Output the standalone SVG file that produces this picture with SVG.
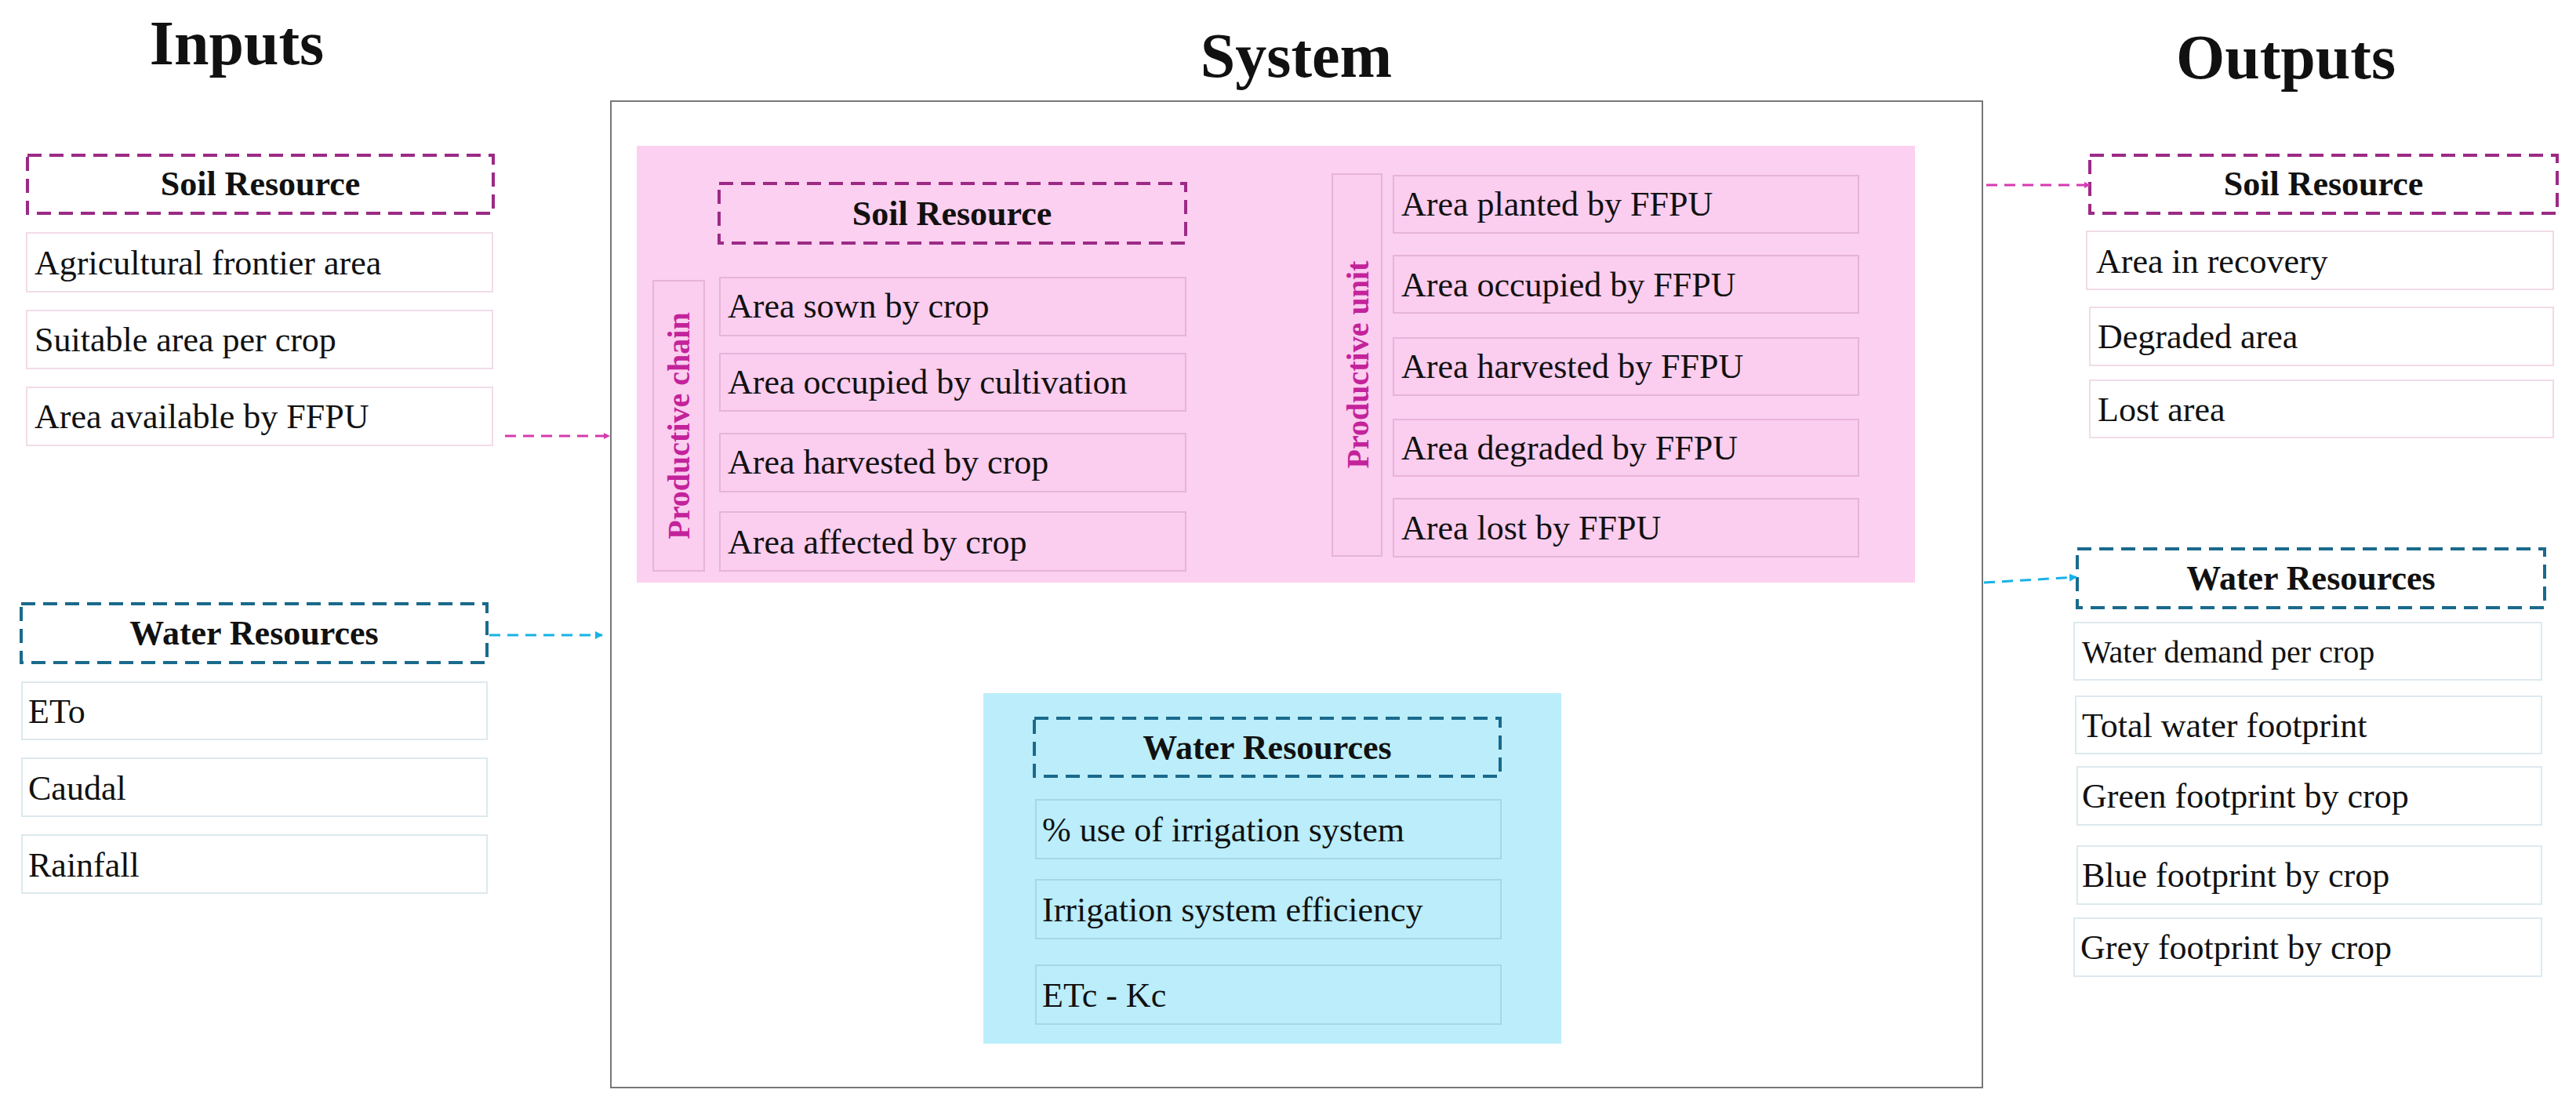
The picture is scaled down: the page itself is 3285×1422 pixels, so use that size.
<svg xmlns="http://www.w3.org/2000/svg" width="3285" height="1422" viewBox="0 0 3285 1422">
<defs>
<style>
text{font-family:"Liberation Serif","Times New Roman",serif;fill:#111}
.title{font-size:80px;font-weight:bold;text-anchor:middle}
.hdr{font-size:44px;font-weight:bold;text-anchor:middle}
.it{font-size:44px}
.sh{fill:none;stroke:#9c2a85;stroke-width:4;stroke-dasharray:18 10}
.wh{fill:none;stroke:#1a6a8c;stroke-width:4;stroke-dasharray:18 10}
.si{fill:#fff;stroke:#f1dbe8;stroke-width:2}
.wi{fill:#fff;stroke:#dde9ee;stroke-width:2}
.pi{fill:#fbcdef;stroke:#e6b4d8;stroke-width:2}
.bi{fill:#bbedfa;stroke:#a6d7e4;stroke-width:2}
.vt{font-size:40px;font-weight:bold;fill:#c3239a;text-anchor:middle}
.sa{fill:none;stroke:#d53bb0;stroke-width:3;stroke-dasharray:14 9}
.wa{fill:none;stroke:#17b2e6;stroke-width:3;stroke-dasharray:14 9}
</style>
<marker id="ms" markerWidth="8" markerHeight="8" refX="7" refY="4" orient="auto" markerUnits="userSpaceOnUse"><path d="M0,0 L8,4 L0,8 z" fill="#d53bb0"/></marker>
<marker id="mw" markerWidth="10" markerHeight="10" refX="9" refY="5" orient="auto" markerUnits="userSpaceOnUse"><path d="M0,0 L10,5 L0,10 z" fill="#17b2e6"/></marker>
</defs>
<rect width="3285" height="1422" fill="#fff"/>
<text class="title" x="302" y="82">Inputs</text>
<text class="title" x="1653" y="98">System</text>
<text class="title" x="2915" y="100">Outputs</text>

<g id="system">
<rect x="779" y="129" width="1749" height="1258" fill="#fff" stroke="#777" stroke-width="2"/>
</g>

<g id="in-soil">
<rect class="sh" x="35" y="198" width="594" height="74"/>
<text class="hdr" x="332" y="249">Soil Resource</text>
<rect class="si" x="34" y="297" width="594" height="75"/><text class="it" x="44" y="350">Agricultural frontier area</text>
<rect class="si" x="34" y="396" width="594" height="74"/><text class="it" x="44" y="448">Suitable area per crop</text>
<rect class="si" x="34" y="494" width="594" height="74"/><text class="it" x="44" y="546">Area available by FFPU</text>
</g>
<g id="in-water">
<rect class="wh" x="27" y="770" width="594" height="75"/>
<text class="hdr" x="324" y="822">Water Resources</text>
<rect class="wi" x="28" y="870" width="593" height="73"/><text class="it" x="36" y="922">ETo</text>
<rect class="wi" x="28" y="967" width="593" height="74"/><text class="it" x="36" y="1020">Caudal</text>
<rect class="wi" x="28" y="1065" width="593" height="74"/><text class="it" x="36" y="1118">Rainfall</text>
</g>

<g id="sys-soil">
<rect x="812" y="186" width="1630" height="557" fill="#fcd0f0"/>
<rect class="sh" x="917" y="234" width="595" height="76"/>
<text class="hdr" x="1214" y="287">Soil Resource</text>
<rect class="pi" x="833" y="358" width="65" height="370"/>
<text class="vt" transform="translate(879,543) rotate(-90)">Productive chain</text>
<rect class="pi" x="918" y="354" width="594" height="74"/><text class="it" x="928" y="405">Area sown by crop</text>
<rect class="pi" x="918" y="451" width="594" height="73"/><text class="it" x="928" y="502">Area occupied by cultivation</text>
<rect class="pi" x="918" y="553" width="594" height="74"/><text class="it" x="928" y="604">Area harvested by crop</text>
<rect class="pi" x="918" y="653" width="594" height="75"/><text class="it" x="928" y="706">Area affected by crop</text>
<rect class="pi" x="1699" y="222" width="63" height="487"/>
<text class="vt" transform="translate(1745,465) rotate(-90)">Productive unit</text>
<rect class="pi" x="1777" y="224" width="593" height="73"/><text class="it" x="1787" y="275">Area planted by FFPU</text>
<rect class="pi" x="1777" y="326" width="593" height="73"/><text class="it" x="1787" y="378">Area occupied by FFPU</text>
<rect class="pi" x="1777" y="431" width="593" height="73"/><text class="it" x="1787" y="482">Area harvested by FFPU</text>
<rect class="pi" x="1777" y="535" width="593" height="72"/><text class="it" x="1787" y="586">Area degraded by FFPU</text>
<rect class="pi" x="1777" y="636" width="593" height="74"/><text class="it" x="1787" y="688">Area lost by FFPU</text>
</g>

<g id="sys-water">
<rect x="1254" y="884" width="737" height="447" fill="#bbeefa"/>
<rect class="wh" x="1319" y="916" width="594" height="74"/>
<text class="hdr" x="1616" y="968">Water Resources</text>
<rect class="bi" x="1321" y="1020" width="593" height="75"/><text class="it" x="1329" y="1073">% use of irrigation system</text>
<rect class="bi" x="1321" y="1122" width="593" height="75"/><text class="it" x="1329" y="1175">Irrigation system efficiency</text>
<rect class="bi" x="1321" y="1231" width="593" height="75"/><text class="it" x="1329" y="1284">ETc - Kc</text>
</g>

<g id="out-soil">
<rect class="sh" x="2665" y="198" width="596" height="74"/>
<text class="hdr" x="2963" y="249">Soil Resource</text>
<rect class="si" x="2661" y="295" width="595" height="74"/><text class="it" x="2673" y="348">Area in recovery</text>
<rect class="si" x="2665" y="392" width="591" height="74"/><text class="it" x="2675" y="444">Degraded area</text>
<rect class="si" x="2665" y="485" width="591" height="73"/><text class="it" x="2675" y="537">Lost area</text>
</g>
<g id="out-water">
<rect class="wh" x="2649" y="700" width="596" height="75"/>
<text class="hdr" x="2947" y="752">Water Resources</text>
<rect class="wi" x="2645" y="794" width="596" height="73"/><text class="it" x="2655" y="845" style="font-size:40px">Water demand per crop</text>
<rect class="wi" x="2647" y="888" width="594" height="73"/><text class="it" x="2655" y="940">Total water footprint</text>
<rect class="wi" x="2649" y="978" width="592" height="74"/><text class="it" x="2655" y="1030">Green footprint by crop</text>
<rect class="wi" x="2649" y="1079" width="592" height="74"/><text class="it" x="2655" y="1131">Blue footprint by crop</text>
<rect class="wi" x="2645" y="1171" width="596" height="74"/><text class="it" x="2653" y="1223">Grey footprint by crop</text>
</g>

<g id="connectors">
<line class="sa" x1="644" y1="556" x2="777" y2="556" marker-end="url(#ms)"/>
<line class="wa" x1="624" y1="810" x2="768" y2="810" marker-end="url(#mw)"/>
<line class="sa" x1="2533" y1="236" x2="2665" y2="236" marker-end="url(#ms)"/>
<line class="wa" x1="2530" y1="743" x2="2648" y2="736" marker-end="url(#mw)"/>
</g>
</svg>
